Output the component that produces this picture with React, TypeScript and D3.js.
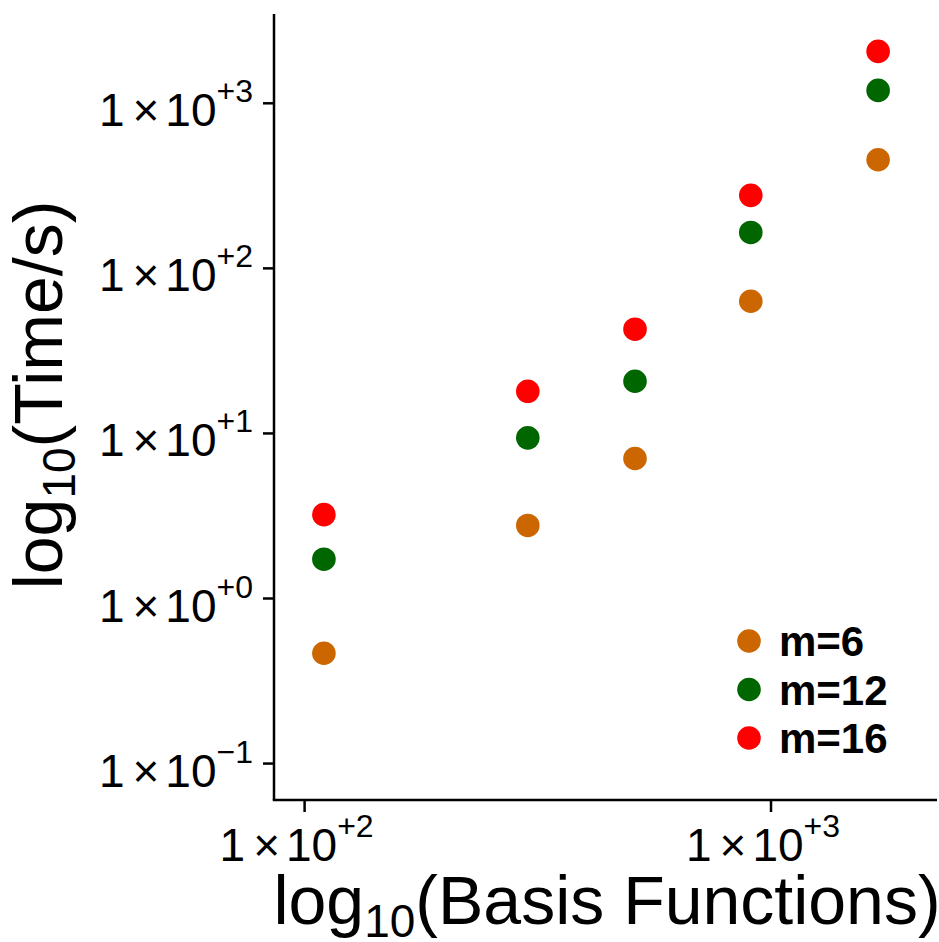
import React from "react";
import * as d3 from "d3";

const basisFunctions = [110, 301, 511, 905, 1697];
const seriesNames = ["m=6", "m=12", "m=16"];
const seriesColors = ["#CC6600", "#006600", "#FF0000"];
const timeM6 = [0.466, 2.77, 7.05, 63.2, 455];
const timeM12 = [1.73, 9.4, 20.7, 165, 1197];
const timeM16 = [3.22, 18.0, 42.8, 277, 2062];
const seriesValues = [timeM6, timeM12, timeM16];
const yTickExps = [-1, 0, 1, 2, 3];
const xTickExps = [2, 3];

const W = 939;
const H = 942;

function expLabel(e: number) {
  if (e < 0) return "\u2212" + Math.abs(e);
  return "+" + e;
}

export default function App() {
  const x = d3.scaleLog().domain([100, 1000]).range([304.6, 771]);
  const y = d3.scaleLog().domain([1, 1000]).range([598.5, 103.3]);
  const font = "'Liberation Sans', Arial, Helvetica, sans-serif";

  const tickLabel = (e: number) => (
    <>
      <tspan>1</tspan>
      <tspan dx={8}>×</tspan>
      <tspan dx={6}>10</tspan>
      <tspan dy={-24} fontSize={32}>{expLabel(e)}</tspan>
    </>
  );

  return (
    <svg
      width={W}
      height={H}
      style={{ position: "absolute", left: 0, top: 0, background: "#fff" }}
      fontFamily={font}
    >
      <rect x={0} y={0} width={W} height={H} fill="#fff" />
      {/* axes */}
      <line x1={274} y1={14} x2={274} y2={800} stroke="#000" strokeWidth={2.5} />
      <line x1={272.75} y1={800} x2={937} y2={800} stroke="#000" strokeWidth={2.5} />

      {yTickExps.map((e) => {
        const ty = y(Math.pow(10, e));
        return (
          <g key={"y" + e}>
            <line x1={263} y1={ty} x2={274} y2={ty} stroke="#000" strokeWidth={2.5} />
            <text x={253} y={ty + 23} textAnchor="end" fontSize={46} fill="#000">
              {tickLabel(e)}
            </text>
          </g>
        );
      })}

      {xTickExps.map((e) => {
        const tx = x(Math.pow(10, e));
        return (
          <g key={"x" + e}>
            <line x1={tx} y1={800} x2={tx} y2={812} stroke="#000" strokeWidth={2.5} />
            <text x={tx - 8} y={861} textAnchor="middle" fontSize={46} fill="#000">
              {tickLabel(e)}
            </text>
          </g>
        );
      })}

      {/* points */}
      {seriesValues.map((vals, si) =>
        vals.map((v, i) => (
          <circle
            key={si + "-" + i}
            cx={x(basisFunctions[i])}
            cy={y(v)}
            r={11.8}
            fill={seriesColors[si]}
          />
        ))
      )}

      {/* legend */}
      {seriesNames.map((name, i) => (
        <g key={name}>
          <circle cx={749} cy={641 + i * 48.5} r={11.8} fill={seriesColors[i]} />
          <text x={779} y={656 + i * 48.5} fontSize={42} fontWeight="bold" fill="#000">
            {name}
          </text>
        </g>
      ))}

      {/* axis titles */}
      <text x={607} y={924} textAnchor="middle" fontSize={68} fill="#000">
        <tspan>log</tspan>
        <tspan dy={13} fontSize={46}>10</tspan>
        <tspan dy={-13}>(Basis Functions)</tspan>
      </text>
      <text
        transform="translate(62,395) rotate(-90)"
        textAnchor="middle"
        fontSize={68}
        fill="#000"
      >
        <tspan>log</tspan>
        <tspan dy={13} fontSize={46}>10</tspan>
        <tspan dy={-13}>(Time/s)</tspan>
      </text>
    </svg>
  );
}
